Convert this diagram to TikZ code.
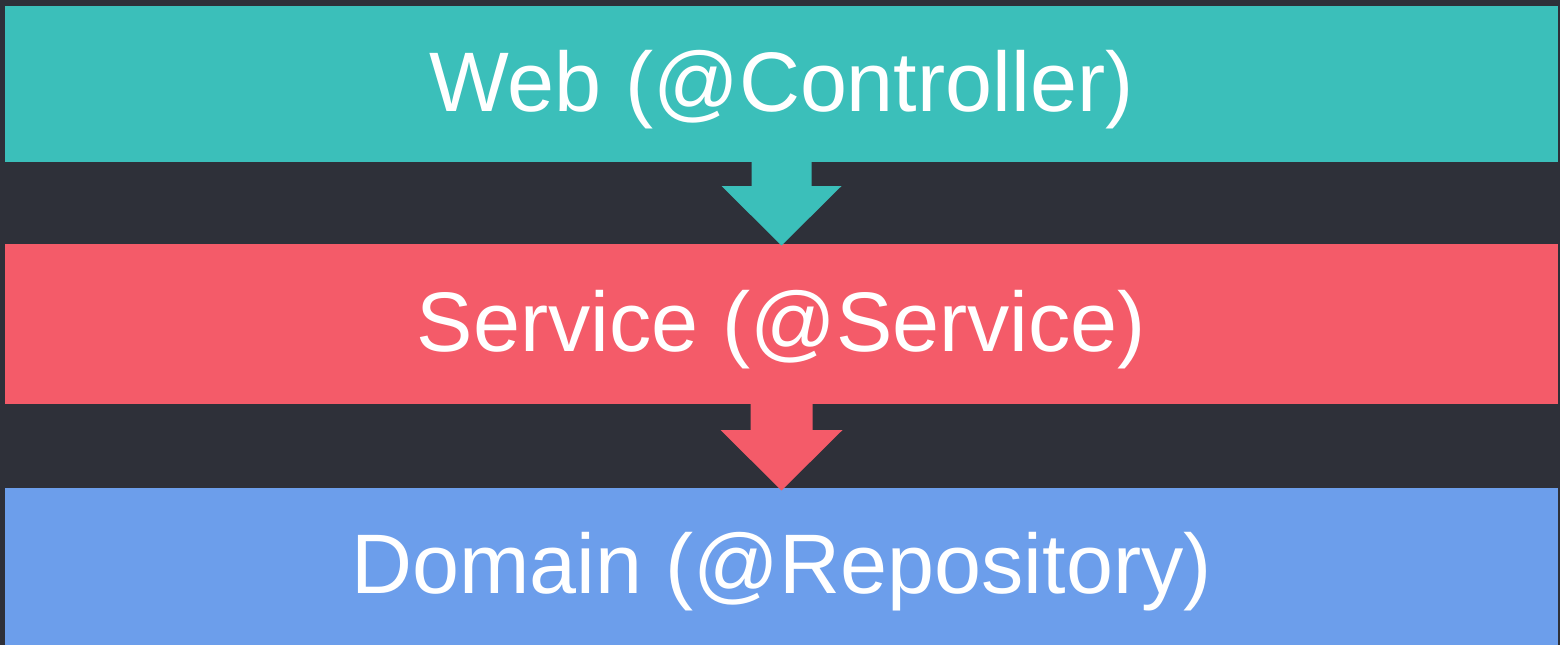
\documentclass[tikz,border=0pt]{standalone}
\usepackage{fontspec}
\setmainfont{Liberation Sans}
\usetikzlibrary{calc}
\definecolor{bgc}{HTML}{2E3039}
\definecolor{tealc}{HTML}{3BBFBA}
\definecolor{redc}{HTML}{F45B69}
\definecolor{bluec}{HTML}{6C9EEB}
\begin{document}
\begin{tikzpicture}[x=1pt,y=-1pt,
  band/.style={rectangle, inner sep=0pt, outer sep=0pt, minimum width=1553pt,
    text=white, font=\fontsize{84.5}{90}\selectfont, text height=60pt, text depth=6pt}]
\fill[bgc] (0,0) rectangle (1560,645);
\useasboundingbox (0,0) rectangle (1560,645);
\node[band, fill=tealc, minimum height=156pt] (web) at (781.5,84) {Web (@Controller)};
\node[band, fill=redc, minimum height=160pt] (svc) at (781.5,324) {Service (@Service)};
\node[band, fill=bluec, minimum height=157pt] (dom) at (781.5,566.5) {Domain (@Repository)};
% arrow web -> service
\fill[tealc] ($(web.south)+(-30,-1)$) -- ++(0,25) -- ++(-30,0)
  -- ($(svc.north)+(0,1.5)$) -- ($(web.south)+(60,24)$) -- ++(-30,0) -- ++(0,-25) -- cycle;
% arrow service -> domain
\fill[redc] ($(svc.south)+(-31,-1)$) -- ++(0,27) -- ++(-30,0)
  -- ($(dom.north)+(0,2.5)$) -- ($(svc.south)+(61,26)$) -- ++(-30,0) -- ++(0,-27) -- cycle;
\end{tikzpicture}
\end{document}
